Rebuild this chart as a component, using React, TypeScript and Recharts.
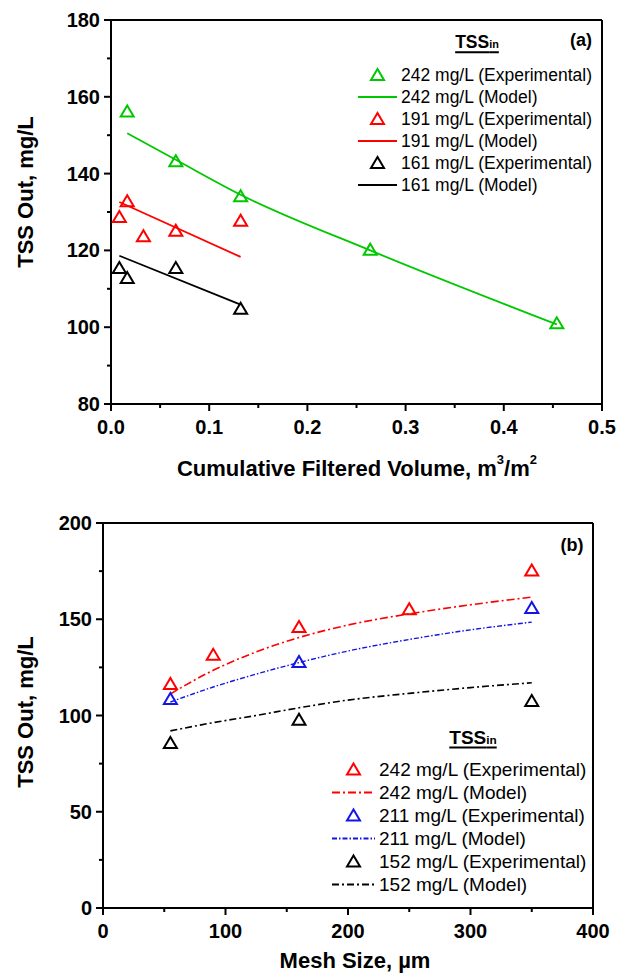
import React from 'react';
import { ComposedChart, Line, Scatter, XAxis, YAxis, ReferenceLine } from 'recharts';

const FONT = '"Liberation Sans", Arial, Helvetica, sans-serif';
const GREEN = '#00c800';
const RED = '#ff0000';
const BLUE = '#1414e6';
const BLACK = '#000000';

// ---- (a) TSS out vs cumulative filtered volume ----
const volume = [0.0085, 0.0165, 0.033, 0.066, 0.132, 0.264, 0.454];
const exp242a = [null, 156.2, null, 143.2, 134.1, 120.2, 101.0];
const model242a = [null, 150.5, null, 143.6, 134.5, 120.0, 100.7];
const exp191a = [128.7, 132.8, 123.7, 125.1, 127.7, null, null];
const model191a = [132.6, null, null, null, 118.3, null, null];
const exp161a = [115.4, 112.8, null, 115.4, 104.8, null, null];
const model161a = [118.6, null, null, null, 105.9, null, null];
const xTicksA = [0, 0.05, 0.1, 0.15, 0.2, 0.25, 0.3, 0.35, 0.4, 0.45, 0.5];
const yTicksA = [80, 90, 100, 110, 120, 130, 140, 150, 160, 170, 180];

// ---- (b) TSS out vs mesh size ----
const mesh = [55, 90, 160, 250, 350];
const exp242b = [116.4, 131.5, 146.0, 155.2, 175.3];
const exp211b = [108.6, null, 127.8, null, 155.8];
const exp152b = [85.7, null, 97.8, null, 107.5];
const modelMesh = [55, 90, 125, 160, 200, 250, 300, 350];
const model242b = [111.2, 123.5, 133.0, 140.5, 147.0, 152.8, 157.5, 161.5];
const model211b = [107.0, 114.8, 121.5, 127.5, 133.5, 139.5, 144.5, 148.5];
const model152b = [92.0, 96.3, 100.0, 104.0, 108.0, 111.5, 114.5, 117.0];
const xTicksB = [0, 50, 100, 150, 200, 250, 300, 350, 400];
const yTicksB = [0, 25, 50, 75, 100, 125, 150, 175, 200];

const zip = (xs: number[], ys: (number | null)[]) =>
  xs.map((x, i) => ({ x, y: ys[i] })).filter((d) => d.y != null);

const DASH_RED = '8 3 2 3';
const DASH_BLUE = '5 2 1.5 2';
const DASH_BLACK = '7 3 2 3';

function Triangle(props: any) {
  const { cx, cy, color } = props;
  if (cx == null || cy == null) return null;
  return (
    <polygon
      points={`${cx},${cy - 6} ${cx - 6.5},${cy + 5} ${cx + 6.5},${cy + 5}`}
      fill="none"
      stroke={color}
      strokeWidth={2}
    />
  );
}

const tri = (color: string) => (p: any) => <Triangle {...p} color={color} />;

const bottomTick = (isMajor: (v: number) => boolean, fmt: (v: number) => string) =>
  (props: any) => {
    const { x, y, payload } = props;
    const major = isMajor(payload.value);
    return (
      <g>
        <line x1={x} y1={y} x2={x} y2={y + (major ? 7 : 4)} stroke="#000" strokeWidth={2} />
        {major && (
          <text
            x={x}
            y={y + 23}
            textAnchor="middle"
            dominantBaseline="central"
            fontFamily={FONT}
            fontWeight="bold"
            fontSize={20}
            fill="#000"
          >
            {fmt(payload.value)}
          </text>
        )}
      </g>
    );
  };

const leftTick = (isMajor: (v: number) => boolean) => (props: any) => {
  const { x, y, payload } = props;
  const major = isMajor(payload.value);
  return (
    <g>
      <line x1={x} y1={y} x2={x - (major ? 7 : 4)} y2={y} stroke="#000" strokeWidth={2} />
      {major && (
        <text
          x={x - 11}
          y={y}
          textAnchor="end"
          dominantBaseline="central"
          fontFamily={FONT}
          fontWeight="bold"
          fontSize={20}
          fill="#000"
        >
          {payload.value}
        </text>
      )}
    </g>
  );
};

const yTitle = (cy: number) => () => (
  <text
    x={25}
    y={cy}
    transform={`rotate(-90 25 ${cy})`}
    textAnchor="middle"
    dominantBaseline="central"
    fontFamily={FONT}
    fontWeight="bold"
    fontSize={22}
    fill="#000"
  >
    TSS Out, mg/L
  </text>
);

type Item = { label: string; color: string; kind: 'tri' | 'line'; dash?: string };

function LegendBox({
  left,
  top,
  rowH,
  fontSize,
  symW,
  lineFrom,
  lineTo,
  items,
}: {
  left: number;
  top: number;
  rowH: number;
  fontSize: number;
  symW: number;
  lineFrom: number;
  lineTo: number;
  items: Item[];
}) {
  return (
    <div style={{ position: 'absolute', left, top, fontFamily: FONT, fontSize, color: '#000' }}>
      {items.map((it) => (
        <div key={it.label} style={{ display: 'flex', alignItems: 'center', height: rowH, whiteSpace: 'nowrap' }}>
          <svg width={symW} height={rowH} style={{ display: 'block' }}>
            {it.kind === 'tri' ? (
              <Triangle cx={(lineFrom + lineTo) / 2} cy={rowH / 2} color={it.color} />
            ) : (
              <line
                x1={lineFrom}
                x2={lineTo}
                y1={rowH / 2}
                y2={rowH / 2}
                stroke={it.color}
                strokeWidth={1.8}
                strokeDasharray={it.dash}
              />
            )}
          </svg>
          <span style={{ lineHeight: `${rowH}px` }}>{it.label}</span>
        </div>
      ))}
    </div>
  );
}

function Title({ cx, cy, size, children }: { cx: number; cy: number; size: number; children: React.ReactNode }) {
  return (
    <div
      style={{
        position: 'absolute',
        left: cx,
        top: cy,
        transform: 'translate(-50%, -50%)',
        fontFamily: FONT,
        fontWeight: 'bold',
        fontSize: size,
        lineHeight: 1,
        whiteSpace: 'nowrap',
      }}
    >
      {children}
    </div>
  );
}

const TssIn = ({ size }: { size: number }) => (
  <span style={{ textDecoration: 'underline', textDecorationThickness: 2, textUnderlineOffset: 3 }}>
    TSS<span style={{ fontSize: size * 0.62 }}>in</span>
  </span>
);

const legendA: Item[] = [
  { label: '242 mg/L (Experimental)', color: GREEN, kind: 'tri' },
  { label: '242 mg/L (Model)', color: GREEN, kind: 'line' },
  { label: '191 mg/L (Experimental)', color: RED, kind: 'tri' },
  { label: '191 mg/L (Model)', color: RED, kind: 'line' },
  { label: '161 mg/L (Experimental)', color: BLACK, kind: 'tri' },
  { label: '161 mg/L (Model)', color: BLACK, kind: 'line' },
];

const legendB: Item[] = [
  { label: '242 mg/L (Experimental)', color: RED, kind: 'tri' },
  { label: '242 mg/L (Model)', color: RED, kind: 'line', dash: DASH_RED },
  { label: '211 mg/L (Experimental)', color: BLUE, kind: 'tri' },
  { label: '211 mg/L (Model)', color: BLUE, kind: 'line', dash: DASH_BLUE },
  { label: '152 mg/L (Experimental)', color: BLACK, kind: 'tri' },
  { label: '152 mg/L (Model)', color: BLACK, kind: 'line', dash: DASH_BLACK },
];

const axisLine = { stroke: '#000', strokeWidth: 2 };

export default function App() {
  return (
    <div style={{ position: 'absolute', left: 0, top: 0, width: 643, height: 979, background: '#fff' }}>
      {/* (a) */}
      <div style={{ position: 'absolute', left: 0, top: 0 }}>
        <ComposedChart width={643} height={490} margin={{ top: 20, right: 41, bottom: 26, left: 0 }}>
          <XAxis
            dataKey="x"
            type="number"
            domain={[0, 0.5]}
            ticks={xTicksA}
            interval={0}
            height={60}
            tickSize={0}
            tickMargin={0}
            tickLine={false}
            axisLine={axisLine}
            allowDataOverflow
            tick={bottomTick((v) => Math.round(v * 100) % 10 === 0, (v) => v.toFixed(1))}
            label={() => (
              <text
                x={357}
                y={468}
                textAnchor="middle"
                dominantBaseline="central"
                fontFamily={FONT}
                fontWeight="bold"
                fontSize={22}
                fill="#000"
              >
                Cumulative Filtered Volume, m
                <tspan fontSize={13} dy={-9}>3</tspan>
                <tspan dy={9}>/m</tspan>
                <tspan fontSize={13} dy={-9}>2</tspan>
              </text>
            )}
          />
          <YAxis
            dataKey="y"
            type="number"
            domain={[80, 180]}
            ticks={yTicksA}
            interval={0}
            width={111}
            tickSize={0}
            tickMargin={0}
            tickLine={false}
            axisLine={axisLine}
            allowDataOverflow
            tick={leftTick((v) => v % 20 === 0)}
            label={yTitle(192)}
          />
          <ReferenceLine y={180} stroke="#000" strokeWidth={2} />
          <ReferenceLine x={0.5} stroke="#000" strokeWidth={2} />
          <Line data={zip(volume, model242a)} dataKey="y" type="monotone" stroke={GREEN} strokeWidth={1.8} dot={false} isAnimationActive={false} />
          <Line data={zip(volume, model191a)} dataKey="y" type="linear" stroke={RED} strokeWidth={1.8} dot={false} isAnimationActive={false} />
          <Line data={zip(volume, model161a)} dataKey="y" type="linear" stroke={BLACK} strokeWidth={1.8} dot={false} isAnimationActive={false} />
          <Scatter data={zip(volume, exp242a)} dataKey="y" shape={tri(GREEN)} isAnimationActive={false} />
          <Scatter data={zip(volume, exp191a)} dataKey="y" shape={tri(RED)} isAnimationActive={false} />
          <Scatter data={zip(volume, exp161a)} dataKey="y" shape={tri(BLACK)} isAnimationActive={false} />
        </ComposedChart>
        <Title cx={477} cy={43} size={17.5}>
          <TssIn size={17.5} />
        </Title>
        <Title cx={581} cy={40} size={18}>(a)</Title>
        <LegendBox left={355} top={64} rowH={22} fontSize={17.5} symW={46} lineFrom={3} lineTo={42} items={legendA} />
      </div>

      {/* (b) */}
      <div style={{ position: 'absolute', left: 0, top: 490 }}>
        <ComposedChart width={643} height={489} margin={{ top: 33, right: 50, bottom: 21, left: 0 }}>
          <XAxis
            dataKey="x"
            type="number"
            domain={[0, 400]}
            ticks={xTicksB}
            interval={0}
            height={50}
            tickSize={0}
            tickMargin={0}
            tickLine={false}
            axisLine={axisLine}
            allowDataOverflow
            tick={bottomTick((v) => v % 100 === 0, (v) => String(v))}
            label={() => (
              <text
                x={355}
                y={470}
                textAnchor="middle"
                dominantBaseline="central"
                fontFamily={FONT}
                fontWeight="bold"
                fontSize={22}
                fill="#000"
              >
                Mesh Size, µm
              </text>
            )}
          />
          <YAxis
            dataKey="y"
            type="number"
            domain={[0, 200]}
            ticks={yTicksB}
            interval={0}
            width={103}
            tickSize={0}
            tickMargin={0}
            tickLine={false}
            axisLine={axisLine}
            allowDataOverflow
            tick={leftTick((v) => v % 50 === 0)}
            label={yTitle(222)}
          />
          <ReferenceLine y={200} stroke="#000" strokeWidth={2} />
          <ReferenceLine x={400} stroke="#000" strokeWidth={2} />
          <Line data={zip(modelMesh, model242b)} dataKey="y" type="monotone" stroke={RED} strokeWidth={1.6} strokeDasharray={DASH_RED} dot={false} isAnimationActive={false} />
          <Line data={zip(modelMesh, model211b)} dataKey="y" type="monotone" stroke={BLUE} strokeWidth={1.4} strokeDasharray={DASH_BLUE} dot={false} isAnimationActive={false} />
          <Line data={zip(modelMesh, model152b)} dataKey="y" type="monotone" stroke={BLACK} strokeWidth={1.6} strokeDasharray={DASH_BLACK} dot={false} isAnimationActive={false} />
          <Scatter data={zip(mesh, exp242b)} dataKey="y" shape={tri(RED)} isAnimationActive={false} />
          <Scatter data={zip(mesh, exp211b)} dataKey="y" shape={tri(BLUE)} isAnimationActive={false} />
          <Scatter data={zip(mesh, exp152b)} dataKey="y" shape={tri(BLACK)} isAnimationActive={false} />
        </ComposedChart>
        <Title cx={473} cy={247} size={19}>
          <TssIn size={19} />
        </Title>
        <Title cx={572} cy={55} size={18}>(b)</Title>
        <LegendBox left={328} top={268} rowH={23} fontSize={19} symW={51} lineFrom={4} lineTo={47} items={legendB} />
      </div>
    </div>
  );
}
